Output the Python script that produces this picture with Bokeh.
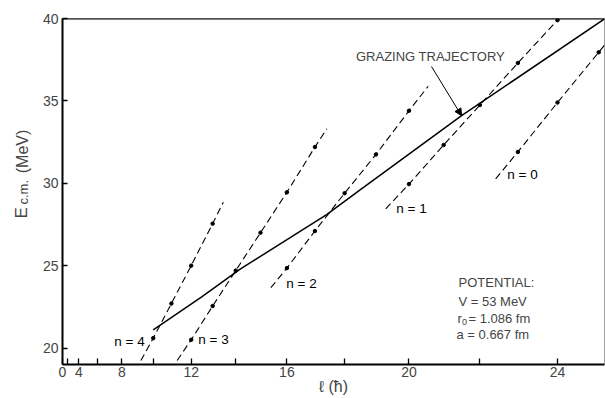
import numpy as np
from bokeh.plotting import figure
from bokeh.layouts import row
from bokeh.models import Range1d, FixedTicker, Label, Arrow, NormalHead, Span
from bokeh.embed import file_html
from bokeh.resources import INLINE

# ---------------- data (l in units of hbar, E_cm in MeV) ----------------
grazing_l = [10.0, 12.5, 14.2, 17.4, 18.5, 21.5, 25.15]
grazing_E = [21.1, 23.1, 24.8, 28.1, 29.6, 34.1, 40.0]

n4_dot_l = [10, 11, 12, 13]
n4_dot_E = [20.6, 22.7, 25.0, 27.55]
n4_end_l = [9.26, 13.47]
n4_end_E = [19.24, 28.85]

n3_dot_l = [12, 13, 14, 15, 16, 17]
n3_dot_E = [20.5, 22.55, 24.7, 27.0, 29.45, 32.2]
n3_end_l = [11.3, 17.41]
n3_end_E = [19.24, 33.31]

n2_dot_l = [16, 17, 18, 19, 20]
n2_dot_E = [24.85, 27.1, 29.4, 31.75, 34.4]
n2_end_l = [15.4, 20.56]
n2_end_E = [23.66, 35.89]

n1_dot_l = [20, 21, 22, 23, 24]
n1_dot_E = [29.95, 32.32, 34.75, 37.3, 39.9]
n1_end_l = [19.3, 24.0]
n1_end_E = [28.45, 39.9]

n0_dot_l = [23, 24, 25]
n0_dot_E = [31.9, 34.9, 37.95]
n0_end_l = [22.42, 25.3]
n0_end_E = [30.27, 38.9]

x_tick_l = [0, 2, 4, 6, 8, 10, 12, 14, 16, 18, 20, 22, 24]
x_label_l = [0, 4, 8, 12, 16, 20, 24]
y_ticks = [20, 25, 30, 35, 40]

potential_lines = ["POTENTIAL:", "V = 53 MeV", "= 1.086 fm", "a = 0.667 fm"]

# ---------------- helpers ----------------
def lx(l):
    """abscissa is linear in l(l+1)"""
    a = np.asarray(l, dtype=float)
    return a * (a + 1.0)

W, H = 605, 398
LEFT_W = 32          # strip holding the y title
X_MAX = 657.0
Y_MIN, Y_MAX = 19.0, 40.0
FL, FR, FT, FB = 62, 604, 18, 364   # frame edges in page pixels

def X(px):
    return (px - FL) / (FR - FL) * X_MAX

def Y(py):
    return Y_MIN + (FB - py) / (FB - FT) * (Y_MAX - Y_MIN)

FONT = "Liberation Sans"

p = figure(width=W - LEFT_W, height=H, output_backend="svg", toolbar_location=None,
           x_range=Range1d(0, X_MAX), y_range=Range1d(Y_MIN, Y_MAX),
           min_border_left=FL - LEFT_W, min_border_right=W - FR,
           min_border_top=FT, min_border_bottom=H - FB)
p.grid.visible = False
p.background_fill_color = "white"
p.border_fill_color = "white"
p.outline_line_color = "#a0a0a0"
p.outline_line_width = 1

# axes
xa = p.xaxis[0]
xa.ticker = FixedTicker(ticks=[int(v) for v in lx(x_tick_l)])
xa.major_label_overrides = {int(l * (l + 1)): (str(l) if l in x_label_l else "") for l in x_tick_l}
xa.major_tick_in = 6
xa.major_tick_out = 0
xa.minor_tick_line_color = None
xa.axis_line_width = 2
xa.major_tick_line_width = 1.3
xa.major_label_text_font = FONT
xa.major_label_text_font_size = "14px"
xa.major_label_standoff = 2
xa.axis_label = "ℓ (ħ)"
xa.axis_label_text_font = FONT
xa.axis_label_text_font_style = "normal"
xa.axis_label_text_font_size = "16px"
xa.axis_label_standoff = -2

ya = p.yaxis[0]
ya.ticker = FixedTicker(ticks=y_ticks)
ya.major_tick_in = 5
ya.major_tick_out = 0
ya.minor_tick_line_color = None
ya.axis_line_width = 2
ya.major_tick_line_width = 1.3
ya.major_label_text_font = FONT
ya.major_label_text_font_size = "14px"
ya.major_label_standoff = 4

p.add_layout(Span(location=Y_MAX, dimension="width", line_color="black", line_width=2))

# grazing trajectory
p.line(lx(grazing_l), grazing_E, line_color="black", line_width=1.5)

# trajectories n = 4 ... 0
for dl, dE, el, eE in [(n4_dot_l, n4_dot_E, n4_end_l, n4_end_E),
                       (n3_dot_l, n3_dot_E, n3_end_l, n3_end_E),
                       (n2_dot_l, n2_dot_E, n2_end_l, n2_end_E),
                       (n1_dot_l, n1_dot_E, n1_end_l, n1_end_E),
                       (n0_dot_l, n0_dot_E, n0_end_l, n0_end_E)]:
    ll = [el[0]] + list(dl) + [el[1]]
    EE = [eE[0]] + list(dE) + [eE[1]]
    p.line(lx(ll), EE, line_color="black", line_width=1.1, line_dash="7 4")
    p.scatter(lx(dl), dE, size=3.5, color="black")

# n labels
for txt, px, py in [("n = 4", 129, 341), ("n = 3", 213, 339), ("n = 2", 301, 283),
                    ("n = 1", 411, 208), ("n = 0", 522, 174)]:
    p.add_layout(Label(x=X(px), y=Y(py), text=txt, text_align="center",
                       text_baseline="middle", text_font=FONT,
                       text_font_size="13.5px", text_color="black"))

# grazing trajectory label + arrow
p.add_layout(Label(x=X(430), y=Y(56), text="GRAZING TRAJECTORY", text_align="center",
                   text_baseline="middle", text_font=FONT, text_font_size="13px"))
p.add_layout(Arrow(end=NormalHead(size=7, fill_color="black", line_color="black"),
                   x_start=X(431), y_start=Y(66),
                   x_end=float(lx(grazing_l[5])), y_end=grazing_E[5],
                   line_color="black", line_width=1))

# potential block
p.add_layout(Label(x=X(458), y=Y(282), text=potential_lines[0], text_font=FONT,
                   text_font_size="13px", text_baseline="alphabetic"))
p.add_layout(Label(x=X(458), y=Y(301), text=potential_lines[1], text_font=FONT,
                   text_font_size="13px", text_baseline="alphabetic"))
p.add_layout(Label(x=X(457), y=Y(318), text="r", text_font=FONT,
                   text_font_size="13px", text_baseline="alphabetic"))
p.add_layout(Label(x=X(461.5), y=Y(321), text="0", text_font=FONT,
                   text_font_size="9px", text_baseline="alphabetic"))
p.add_layout(Label(x=X(468), y=Y(318), text=potential_lines[2], text_font=FONT,
                   text_font_size="13px", text_baseline="alphabetic"))
p.add_layout(Label(x=X(456), y=Y(334), text=potential_lines[3], text_font=FONT,
                   text_font_size="13px", text_baseline="alphabetic"))

# ---------------- strip with the y title (page pixel coordinates) ----------------
ly = figure(width=LEFT_W, height=H, output_backend="svg", toolbar_location=None,
            x_range=Range1d(0, LEFT_W), y_range=Range1d(H, 0),
            x_axis_location=None, y_axis_location=None,
            min_border=0, min_border_left=0, min_border_right=0,
            min_border_top=0, min_border_bottom=0)
ly.grid.visible = False
ly.outline_line_color = None
ly.add_layout(Label(x=21, y=230, text="E", angle=np.pi / 2, text_align="left",
                    text_baseline="alphabetic", text_font=FONT, text_font_size="17px"))
ly.add_layout(Label(x=22.5, y=214, text="c.m.", angle=np.pi / 2, text_align="left",
                    text_baseline="alphabetic", text_font=FONT, text_font_size="13px"))
ly.add_layout(Label(x=21.5, y=178, text="(MeV)", angle=np.pi / 2, text_align="left",
                    text_baseline="alphabetic", text_font=FONT, text_font_size="16px"))

layout = row(ly, p, spacing=0)
open("out.html", "w").write(file_html(layout, INLINE))
